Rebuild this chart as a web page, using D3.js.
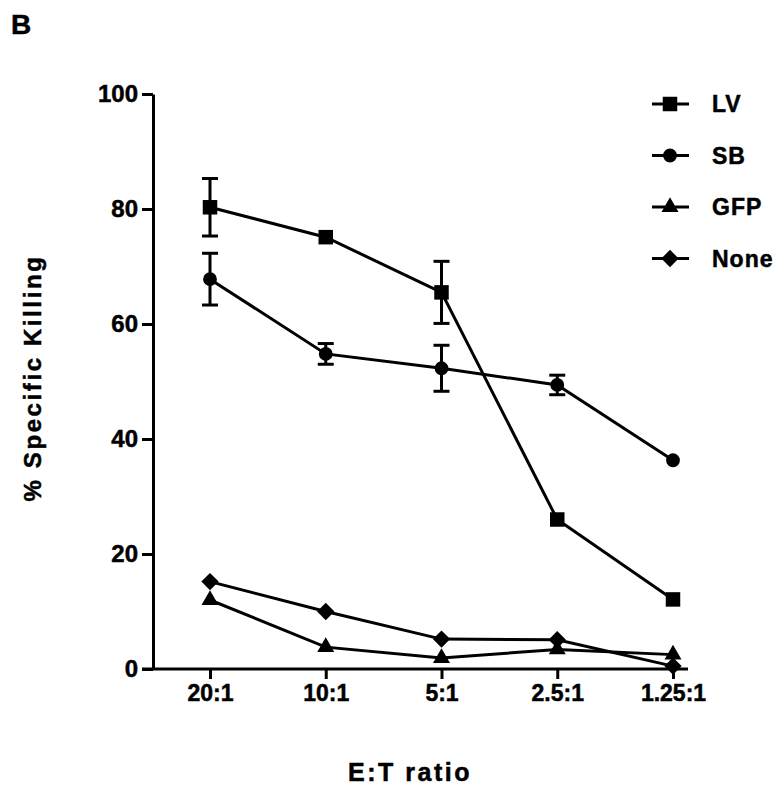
<!DOCTYPE html>
<html>
<head>
<meta charset="utf-8">
<script src="https://cdn.jsdelivr.net/npm/d3@7"></script>
<style>
  html, body { margin: 0; padding: 0; background: #fff; }
  svg text { font-family: "Liberation Sans", Arial, sans-serif; font-weight: bold; fill: #000; stroke: #000; stroke-width: 0.5px; }
</style>
</head>
<body>
<div id="viz-container"></div>
<script>
'use strict';

// E:T ratios on the x axis
const ratios = ['20:1', '10:1', '5:1', '2.5:1', '1.25:1'];

// % specific killing
const lvValues = [80.3, 75.1, 65.5, 26.0, 12.1];
const lvErr = [5.0, 0, 5.4, 0, 0];
const sbValues = [67.8, 54.8, 52.3, 49.4, 36.3];
const sbErr = [4.5, 1.8, 4.0, 1.7, 0];
const gfpValues = [12.0, 3.8, 1.9, 3.4, 2.5];
const noneValues = [15.2, 10.0, 5.2, 5.1, 0.5];

const yTicks = [0, 20, 40, 60, 80, 100];

const seriesNames = ['LV', 'SB', 'GFP', 'None'];

const width = 779, height = 787;

const svg = d3.select('#viz-container')
    .append('svg')
    .attr('width', width)
    .attr('height', height);

// Scales
const x = d3.scalePoint().domain(ratios).range([210, 673]);
const y = d3.scaleLinear().domain([0, 100]).range([669, 94]);
const axisLeftX = 153, axisRightX = 688;

// Panel letter
svg.append('text')
    .attr('x', 11).attr('y', 34)
    .style('font-size', '28px')
    .text('B');

// Y axis
const yAxis = svg.append('g')
    .attr('transform', `translate(${axisLeftX},0)`)
    .call(d3.axisLeft(y).tickValues(yTicks).tickSize(11).tickPadding(4).tickSizeOuter(0));
yAxis.select('.domain').attr('stroke', '#000').attr('stroke-width', 3);
yAxis.selectAll('.tick line').attr('stroke', '#000').attr('stroke-width', 3);
yAxis.selectAll('.tick text')
    .style('font-size', '24px')
    .attr('fill', '#000');

// X axis
const xAxis = svg.append('g')
    .attr('transform', `translate(0,${y(0)})`)
    .call(d3.axisBottom(x).tickSize(10).tickPadding(6).tickSizeOuter(0));
xAxis.select('.domain').remove();
xAxis.append('line')
    .attr('x1', axisLeftX - 11).attr('x2', axisRightX)
    .attr('stroke', '#000').attr('stroke-width', 3);
xAxis.selectAll('.tick line').attr('stroke', '#000').attr('stroke-width', 3);
xAxis.selectAll('.tick text')
    .style('font-size', '23px')
    .attr('fill', '#000');

// Axis titles
svg.append('text')
    .attr('transform', 'translate(41,378) rotate(-90)')
    .attr('text-anchor', 'middle')
    .style('font-size', '24px')
    .style('letter-spacing', '2.6px')
    .text('% Specific Killing');

svg.append('text')
    .attr('x', 410).attr('y', 781)
    .attr('text-anchor', 'middle')
    .style('font-size', '25px')
    .style('letter-spacing', '2.5px')
    .text('E:T ratio');

// Series definitions
const symbols = {
    LV: { type: d3.symbolSquare, size: 210, rotate: 0 },
    SB: { type: d3.symbolCircle, size: 150, rotate: 0 },
    GFP: { type: d3.symbolTriangle, size: 125, rotate: 0 },
    None: { type: d3.symbolSquare, size: 150, rotate: 45 }
};

const series = [
    { name: 'LV', values: lvValues, err: lvErr },
    { name: 'SB', values: sbValues, err: sbErr },
    { name: 'GFP', values: gfpValues, err: null },
    { name: 'None', values: noneValues, err: null }
];

const line = d3.line()
    .x((d, i) => x(ratios[i]))
    .y(d => y(d));

const plot = svg.append('g');

// Connecting lines
series.forEach(s => {
    plot.append('path')
        .datum(s.values)
        .attr('fill', 'none')
        .attr('stroke', '#000')
        .attr('stroke-width', 3)
        .attr('d', line);
});

// Error bars
const capHalf = 8;
series.filter(s => s.err).forEach(s => {
    const eb = plot.append('g').selectAll('g')
        .data(s.values.map((v, i) => ({ r: ratios[i], v: v, e: s.err[i] })).filter(d => d.e > 0))
        .enter().append('g')
        .attr('stroke', '#000')
        .attr('stroke-width', 3);
    eb.append('line')
        .attr('x1', d => x(d.r)).attr('x2', d => x(d.r))
        .attr('y1', d => y(d.v + d.e)).attr('y2', d => y(d.v - d.e));
    eb.append('line')
        .attr('x1', d => x(d.r) - capHalf).attr('x2', d => x(d.r) + capHalf)
        .attr('y1', d => y(d.v + d.e)).attr('y2', d => y(d.v + d.e));
    eb.append('line')
        .attr('x1', d => x(d.r) - capHalf).attr('x2', d => x(d.r) + capHalf)
        .attr('y1', d => y(d.v - d.e)).attr('y2', d => y(d.v - d.e));
});

// Markers
series.forEach(s => {
    const sym = symbols[s.name];
    plot.append('g').selectAll('path')
        .data(s.values)
        .enter().append('path')
        .attr('d', d3.symbol().type(sym.type).size(sym.size))
        .attr('transform', (d, i) => `translate(${x(ratios[i])},${y(d)}) rotate(${sym.rotate})`)
        .attr('fill', '#000');
});

// Legend
const legend = svg.append('g').attr('transform', 'translate(670,104)');
const legendStep = 51.5;
seriesNames.forEach((name, i) => {
    const sym = symbols[name];
    const row = legend.append('g').attr('transform', `translate(0,${i * legendStep})`);
    row.append('line')
        .attr('x1', -18).attr('x2', 19)
        .attr('stroke', '#000').attr('stroke-width', 3);
    row.append('path')
        .attr('d', d3.symbol().type(sym.type).size(sym.size))
        .attr('transform', `rotate(${sym.rotate})`)
        .attr('fill', '#000');
    row.append('text')
        .attr('x', 42).attr('dy', '0.35em')
        .style('font-size', '23px')
        .style('letter-spacing', '1px')
        .text(name);
});
</script>
</body>
</html>
